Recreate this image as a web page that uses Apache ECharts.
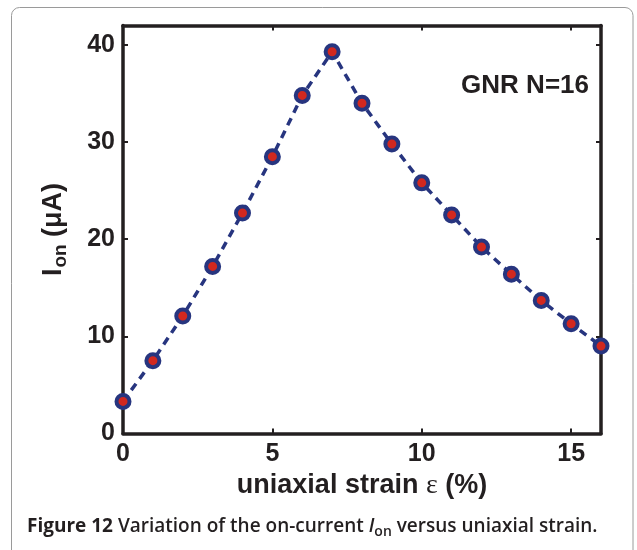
<!DOCTYPE html>
<html><head><meta charset="utf-8">
<script src="https://cdn.jsdelivr.net/npm/echarts@6/dist/echarts.min.js"></script>
<style>html,body{margin:0;padding:0;background:#fff}#c{width:637px;height:550px}</style>
</head><body><div id="c"></div>
<script>
const strain = [0,1,2,3,4,5,6,7,8,9,10,11,12,13,14,15,16];
const current = [3.3,7.5,12.1,17.2,22.7,28.5,34.8,39.3,34.0,29.8,25.8,22.5,19.2,16.4,13.7,11.3,9.0];
const xTicks = [0,5,10,15];
const yTicks = [0,10,20,30,40];
const annotation = 'GNR N=16';

const chart = echarts.init(document.getElementById('c'), null, {renderer:'canvas'});
const axisCol = '#231f20';
const navy = '#27357f';
const red = '#d2281f';
const tickFont = {fontFamily:'Liberation Sans', fontWeight:'bold', fontSize:25, color:'#231f20'};
const baseX = {type:'value', min:0, max:16, interval:5,
  axisLine:{show:true, onZero:false, lineStyle:{color:axisCol, width:3.5}},
  axisTick:{show:true, inside:true, length:5, lineStyle:{color:axisCol, width:2}},
  splitLine:{show:false}};
const baseY = {type:'value', min:0, max:42, interval:10,
  axisLine:{show:true, onZero:false, lineStyle:{color:axisCol, width:3.5}},
  axisTick:{show:true, inside:true, length:5, lineStyle:{color:axisCol, width:2}},
  splitLine:{show:false}};
chart.setOption({
  animation:false,
  grid:{left:123, right:36, top:25.5, bottom:116.5, containLabel:false},
  xAxis:[
    Object.assign({}, baseX, {position:'bottom',
      axisLabel:Object.assign({margin:8, formatter:v=>xTicks.includes(v)?String(v):''}, tickFont),
      name:'{a|uniaxial strain }{e|ε}{a| (%)}', nameLocation:'middle', nameGap:31,
      nameTextStyle:{rich:{
        a:{fontFamily:'Liberation Sans', fontWeight:'bold', fontSize:27, color:'#231f20'},
        e:{fontFamily:'Liberation Serif', fontSize:28, color:'#231f20'}
      }}}),
    Object.assign({}, baseX, {position:'top', axisLabel:{show:false}})
  ],
  yAxis:[
    Object.assign({}, baseY, {position:'left',
      axisLabel:Object.assign({margin:8, formatter:v=>yTicks.includes(v)?String(v):''}, tickFont),
      name:'{a|I}{b|on}{a| (μA)}', nameLocation:'middle', nameGap:53, nameRotate:90,
      nameTextStyle:{rich:{
        a:{fontFamily:'Liberation Sans', fontWeight:'bold', fontSize:27, color:'#231f20', lineHeight:32, verticalAlign:'middle'},
        b:{fontFamily:'Liberation Sans', fontWeight:'bold', fontSize:19, color:'#231f20', lineHeight:32, verticalAlign:'bottom', padding:[16,0,0,1]}
      }}}),
    Object.assign({}, baseY, {position:'right', axisLabel:{show:false}})
  ],
  series:[{
    type:'line', data:strain.map((x,i)=>[x,current[i]]),
    xAxisIndex:0, yAxisIndex:0,
    symbol:'circle', symbolSize:13,
    lineStyle:{color:navy, width:3.5, type:[8,6]},
    itemStyle:{color:red, borderColor:navy, borderWidth:4},
    z:3
  }],
  graphic:[
    {type:'rect', shape:{x:11.5, y:7.5, width:621.5, height:600, r:8}, style:{fill:null, stroke:'#9a9a9a', lineWidth:1}, z:-1},
    {type:'text', right:48, top:73, style:{text:annotation, font:'bold 26px "Liberation Sans"', fill:'#231f20'}},
    {type:'text', left:27, top:517, style:{
      text:'{b|Figure 12 }{r|Variation of the on-current }{i|I}{s|on}{r| versus uniaxial strain.}',
      rich:{
        b:{fontFamily:'Open Sans', fontWeight:'bold', fontSize:19, fill:'#231f20', lineHeight:26},
        r:{fontFamily:'Open Sans', fontWeight:600, fontSize:19, fill:'#231f20', lineHeight:26},
        i:{fontFamily:'Open Sans', fontWeight:600, fontStyle:'italic', fontSize:19, fill:'#231f20', lineHeight:26},
        s:{fontFamily:'Open Sans', fontWeight:600, fontSize:14, fill:'#231f20', lineHeight:26, verticalAlign:'bottom', padding:[7,0,0,0]}
      }}}
  ]
});
</script></body></html>
